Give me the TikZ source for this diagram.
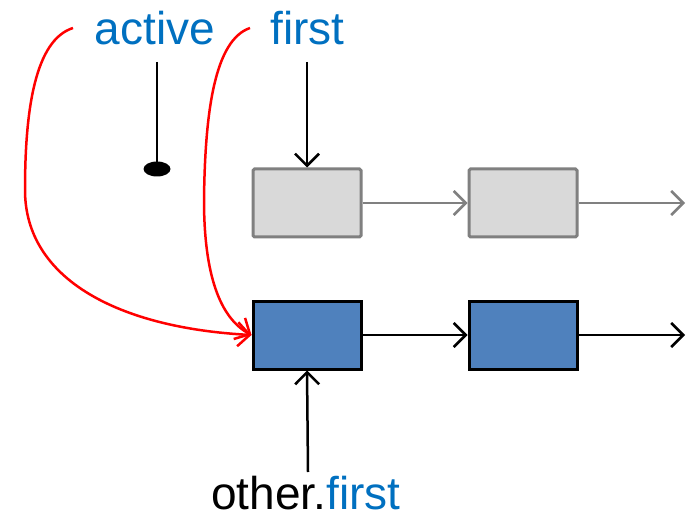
\documentclass[tikz,border=0pt]{standalone}
\usepackage{fontspec}
\setmainfont{Liberation Sans}
\usetikzlibrary{arrows.meta,shapes.geometric}
\definecolor{txtblue}{HTML}{0070C0}
\definecolor{boxblue}{HTML}{4F81BD}
\definecolor{boxgray}{HTML}{D9D9D9}
\definecolor{edgegray}{HTML}{808080}
\begin{document}
\begin{tikzpicture}[x=1pt,y=-1pt,
  cell/.style={rectangle,minimum width=108pt,minimum height=68pt,inner sep=0pt,line width=3pt},
  oldcell/.style={cell,draw=edgegray,fill=boxgray,rounded corners=1.5pt},
  newcell/.style={cell,draw=black,fill=boxblue},
  ptr/.style={line width=2.5pt,-{Straight Barb[length=12pt,width=24pt,line width=2.5pt]}},
  redptr/.style={ptr,draw=red},
  label/.style={font=\fontsize{46}{50}\selectfont,anchor=base,inner sep=0pt,text depth=0pt}]
\useasboundingbox (0,0) rectangle (687,518);

% variable names
\node[label,text=txtblue] (active) at (155,45) {active};
\node[label,text=txtblue] (first) at (307.5,45) {first};
\node[label] (other) at (306,509) {other.\textcolor{txtblue}{first}};

% the old list (grey)
\node[oldcell] (g1) at (307,203) {};
\node[oldcell] (g2) at (523,203) {};
\coordinate (gend) at (685,203);
\draw[ptr,draw=edgegray] (g1.east) -- (g2.west);
\draw[ptr,draw=edgegray] (g2.east) -- (gend);

% the new list (blue)
\node[newcell] (b1) at (307,335) {};
\node[newcell] (b2) at (523,335) {};
\coordinate (bend) at (685,335);
\draw[ptr] (b1.east) -- (b2.west);
\draw[ptr] (b2.east) -- (bend);

% active: null pointer ending in a dot
\coordinate (atop) at (157,62);
\node[ellipse,fill=black,minimum width=27pt,minimum height=15pt,inner sep=0pt] (dot) at (157,169) {};
\draw[line width=2.5pt] (atop) -- (dot.center);

% first -> old head
\coordinate (ftop) at (307,62);
\draw[ptr] (ftop) -- (g1.north);

% other.first -> new head
\coordinate (obot) at (308,472);
\draw[ptr] (obot) -- (b1.south);

% reassigned pointers (red)
\coordinate (ra) at (73,28);
\coordinate (rf) at (250,28);
\draw[redptr] (ra) .. controls (35,40) and (25,110) .. (25,190)
  .. controls (25,280) and (120,328) .. (b1.west);
\draw[redptr] (rf) .. controls (215,40) and (205,110) .. (204,200)
  .. controls (204,275) and (220,318) .. (b1.west);
\end{tikzpicture}
\end{document}
